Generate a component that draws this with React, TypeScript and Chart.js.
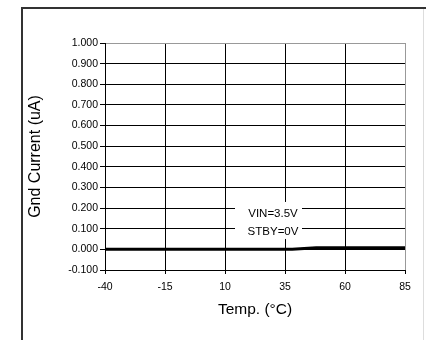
import React, { useEffect, useRef } from "react";
import { Chart, registerables } from "chart.js";

Chart.register(...registerables);

const temps = [-40, -30, -15, 10, 25, 38, 48, 60, 85];
const gndCurrent = [0.0, 0.0, 0.0, 0.0, 0.0, 0.0, 0.008, 0.008, 0.008];
const annotationLines = ["VIN=3.5V", "STBY=0V"];
const yTitle = "Gnd Current (uA)";
const xTitle = "Temp. (°C)";

const FONT = "'Liberation Sans', Arial, Helvetica, sans-serif";

const framePlugin = {
  id: "frame",
  beforeDraw(chart: any) {
    const ctx = chart.ctx;
    ctx.save();
    ctx.fillStyle = "#ffffff";
    ctx.fillRect(0, 0, chart.width, chart.height);
    ctx.strokeStyle = "#333333";
    ctx.lineWidth = 2;
    ctx.beginPath();
    ctx.moveTo(22, 340);
    ctx.lineTo(22, 8);
    ctx.lineTo(426, 8);
    ctx.stroke();
    ctx.strokeStyle = "#dddddd";
    ctx.lineWidth = 1;
    ctx.beginPath();
    ctx.moveTo(423.5, 9);
    ctx.lineTo(423.5, 340);
    ctx.stroke();
    ctx.restore();
  },
};

const notePlugin = {
  id: "note",
  afterDatasetsDraw(chart: any) {
    const ctx = chart.ctx;
    const xs = chart.scales.x;
    const ys = chart.scales.y;
    const cx = xs.getPixelForValue(30);
    const cy = ys.getPixelForValue(0.128);
    ctx.save();
    ctx.fillStyle = "#ffffff";
    ctx.fillRect(cx - 38, cy - 21, 67, 37);
    ctx.fillStyle = "#000000";
    ctx.font = `11.5px ${FONT}`;
    ctx.textAlign = "center";
    ctx.textBaseline = "middle";
    ctx.fillText(annotationLines[0], cx, cy - 9);
    ctx.fillText(annotationLines[1], cx, cy + 9);
    ctx.restore();
  },
};

export default function App() {
  const ref = useRef<HTMLCanvasElement | null>(null);
  useEffect(() => {
    if (!ref.current) return;
    const chart = new Chart(ref.current, {
      type: "line",
      data: {
        datasets: [
          {
            data: temps.map((t, i) => ({ x: t, y: gndCurrent[i] })),
            borderColor: "#000000",
            borderWidth: 3,
            pointRadius: 0,
            tension: 0,
            fill: false,
          },
        ],
      },
      options: {
        animation: false,
        responsive: false,
        events: [],
        layout: { padding: { left: 22, top: 43, right: 21, bottom: 0 } },
        plugins: { legend: { display: false }, tooltip: { enabled: false } },
        scales: {
          x: {
            type: "linear",
            min: -40,
            max: 85,
            ticks: { stepSize: 25, color: "#000", font: { size: 10.5, family: FONT }, padding: 7, maxRotation: 0 },
            grid: {
              color: (c: any) => (c.tick && c.tick.value === 85 ? "#999999" : "#000000"),
              tickColor: "#000000",
              tickLength: 4,
              lineWidth: 1,
            },
            border: { color: "#000000", width: 1 },
            title: { display: true, text: xTitle, color: "#000", font: { size: 15.5, family: FONT }, padding: { top: 0, bottom: 21 } },
            afterFit: (s: any) => {
              s.height = 70;
            },
          },
          y: {
            type: "linear",
            min: -0.1,
            max: 1.0,
            ticks: {
              stepSize: 0.1,
              color: "#000",
              font: { size: 10.5, family: FONT },
              padding: 2,
              callback: (v: any) => Number(v).toFixed(3),
            },
            grid: {
              color: (c: any) => (c.tick && Math.abs(c.tick.value - 1) < 1e-9 ? "#999999" : "#000000"),
              tickColor: "#000000",
              tickLength: 5,
              lineWidth: 1,
            },
            border: { color: "#000000", width: 1 },
            title: { display: true, text: yTitle, color: "#000", font: { size: 16, family: FONT }, padding: { top: 3.5, bottom: 0 } },
            afterFit: (s: any) => {
              s.width = 83;
            },
          },
        },
      },
      plugins: [framePlugin, notePlugin],
    });
    return () => chart.destroy();
  }, []);
  return (
    <div style={{ position: "absolute", left: 0, top: 0, width: 426, height: 340 }}>
      <canvas ref={ref} width={426} height={340} style={{ display: "block" }} />
    </div>
  );
}
